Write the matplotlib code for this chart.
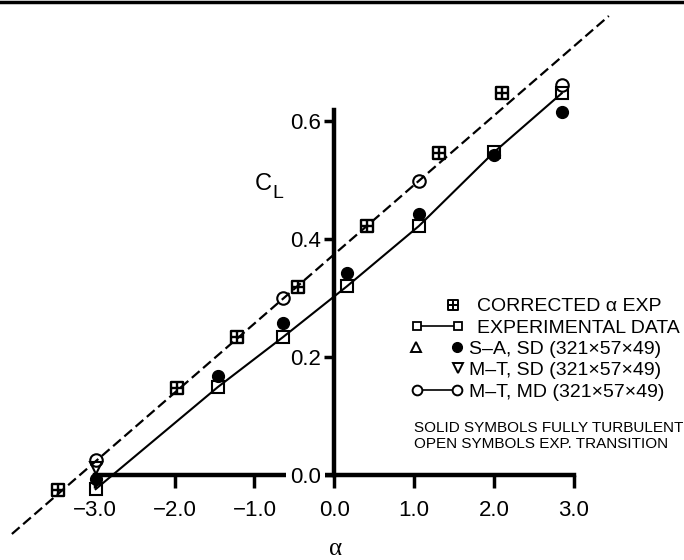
import numpy as np
import matplotlib
matplotlib.use('Agg')
import matplotlib.pyplot as plt
from matplotlib.path import Path
from matplotlib.lines import Line2D

plt.rcParams['font.family'] = ['Liberation Sans', 'DejaVu Sans']

# data (alpha in deg, lift coefficient)
corr_alpha = [-3.46, -1.97, -1.22, -0.455, 0.41, 1.31, 2.10]
corr_cl = [-0.025, 0.147, 0.234, 0.319, 0.422, 0.546, 0.647]

exp_alpha = [-2.99, -1.46, -0.64, 0.16, 1.06, 2.00, 2.85]
exp_cl = [-0.024, 0.149, 0.234, 0.320, 0.422, 0.547, 0.647]

sa_sd_alpha = [-2.99, -1.46, -0.64, 0.16, 1.06, 2.00, 2.85]
sa_sd_cl = [-0.007, 0.168, 0.258, 0.342, 0.442, 0.542, 0.615]

mt_sd_alpha = [-2.99]
mt_sd_cl = [0.012]

mt_md_alpha = [-2.99, -0.64, 1.06, 2.85]
mt_md_cl = [0.025, 0.300, 0.498, 0.661]

fit_alpha = [-4.04, 3.44]
fit_cl = [-0.100, 0.778]

x_ticks = [-3.0, -2.0, -1.0, 0.0, 1.0, 2.0, 3.0]
x_labels = ['\u22123.0', '\u22122.0', '\u22121.0', '0.0', '1.0', '2.0', '3.0']
y_ticks = [0.0, 0.2, 0.4, 0.6]
y_labels = ['0.0', '0.2', '0.4', '0.6']

legend_labels = ['CORRECTED \u03b1 EXP', 'EXPERIMENTAL DATA',
                 'S\u2013A, SD (321\u00d757\u00d749)', 'M\u2013T, SD (321\u00d757\u00d749)',
                 'M\u2013T, MD (321\u00d757\u00d749)']
notes = ['SOLID SYMBOLS FULLY TURBULENT', 'OPEN SYMBOLS EXP. TRANSITION']

# square with a cross inside
boxplus = Path([(-1, -1), (1, -1), (1, 1), (-1, 1), (-1, -1), (0, -1), (0, 1), (-1, 0), (1, 0)],
               [Path.MOVETO, Path.LINETO, Path.LINETO, Path.LINETO, Path.CLOSEPOLY,
                Path.MOVETO, Path.LINETO, Path.MOVETO, Path.LINETO])

W, H = 684, 560
fig = plt.figure(figsize=(W / 100, H / 100), dpi=100)
ax = fig.add_axes([0, 0, 1, 1])
ax.set_xlim(-4.189, 4.382)
ax.set_ylim(-0.1441, 0.8051)

ax.plot(fit_alpha, fit_cl, color='black', lw=1.6, dashes=(4.6, 2.1))
ax.plot(exp_alpha, exp_cl, color='black', lw=1.5)
ax.plot(exp_alpha, exp_cl, ls='none', marker='s', ms=8.5, mfc='none', mec='black', mew=1.5)
ax.plot(corr_alpha, corr_cl, ls='none', marker=boxplus, ms=8.5, mfc='none', mec='black', mew=1.7)
ax.plot(sa_sd_alpha, sa_sd_cl, ls='none', marker='o', ms=8.5, color='black')
ax.plot(mt_sd_alpha, mt_sd_cl, ls='none', marker='v', ms=8.5, mfc='none', mec='black', mew=1.5)
ax.plot(mt_md_alpha, mt_md_cl, ls='none', marker='o', ms=9, mfc='none', mec='black', mew=1.5)

# axes crossing at the origin
for side in ['top', 'right']:
    ax.spines[side].set_visible(False)
ax.spines['left'].set_position(('data', 0))
ax.spines['bottom'].set_position(('data', 0))
ax.spines['left'].set_bounds(0, 0.618)
ax.spines['bottom'].set_bounds(-3, 3)
ax.spines['left'].set_linewidth(3.2)
ax.spines['bottom'].set_linewidth(3.2)
ax.spines['left'].set_zorder(1)
ax.spines['bottom'].set_zorder(1)

ax.set_xticks(x_ticks)
ax.set_xticklabels(x_labels)
ax.set_yticks(y_ticks)
ax.set_yticklabels(y_labels)
ax.tick_params(axis='x', direction='out', length=9, width=2.5, pad=9, labelsize=16)
ax.tick_params(axis='y', direction='out', length=7, width=2.5, pad=2.5, labelsize=16)
ax.get_yticklabels()[0].set_bbox(dict(facecolor='white', edgecolor='none', pad=3))


def fx(px):
    return px / W


def fy(py):
    return 1 - py / H


tr = ax.transAxes
ax.text(fx(255), fy(190), 'C', fontsize=17, transform=tr, va='baseline')
ax.text(fx(272), fy(198), 'L', fontsize=14, transform=tr, va='baseline')
ax.text(fx(336), fy(555), '\u03b1', fontsize=18, family='Liberation Serif',
        transform=tr, ha='center', va='baseline')

# legend drawn by hand
marker_y = [305, 326, 347, 368, 390]
text_y = [311, 333, 354, 375, 397]
text_x = [477, 477, 469, 469, 469]
ax.plot([fx(453)], [fy(marker_y[0])], marker=boxplus, ms=6.5, mfc='none', mec='black', mew=1.4,
        transform=tr, clip_on=False)
ax.plot([fx(417), fx(458)], [fy(marker_y[1])] * 2, color='black', lw=1.2, marker='s', ms=6,
        mfc='white', mec='black', mew=1.3, transform=tr, clip_on=False)
ax.plot([fx(416)], [fy(marker_y[2])], marker='^', ms=6.5, mfc='none', mec='black', mew=1.4,
        transform=tr, clip_on=False)
ax.plot([fx(457)], [fy(marker_y[2])], marker='o', ms=7, color='black', transform=tr, clip_on=False)
ax.plot([fx(458)], [fy(marker_y[3])], marker='v', ms=6.5, mfc='none', mec='black', mew=1.4,
        transform=tr, clip_on=False)
ax.plot([fx(417), fx(457)], [fy(marker_y[4])] * 2, color='black', lw=1.2, marker='o', ms=7,
        mfc='white', mec='black', mew=1.4, transform=tr, clip_on=False)
for lab, tx, ty in zip(legend_labels, text_x, text_y):
    ax.text(fx(tx), fy(ty), lab, fontsize=14, transform=tr, va='baseline')
for note, ty in zip(notes, [432, 448]):
    ax.text(fx(414), fy(ty), note, fontsize=11, transform=tr, va='baseline')

# rule along the top edge
fig.add_artist(Line2D([0, 1], [1 - 2 / H, 1 - 2 / H], color='black', lw=2.5, transform=fig.transFigure))

fig.savefig('out.png', dpi=100)
